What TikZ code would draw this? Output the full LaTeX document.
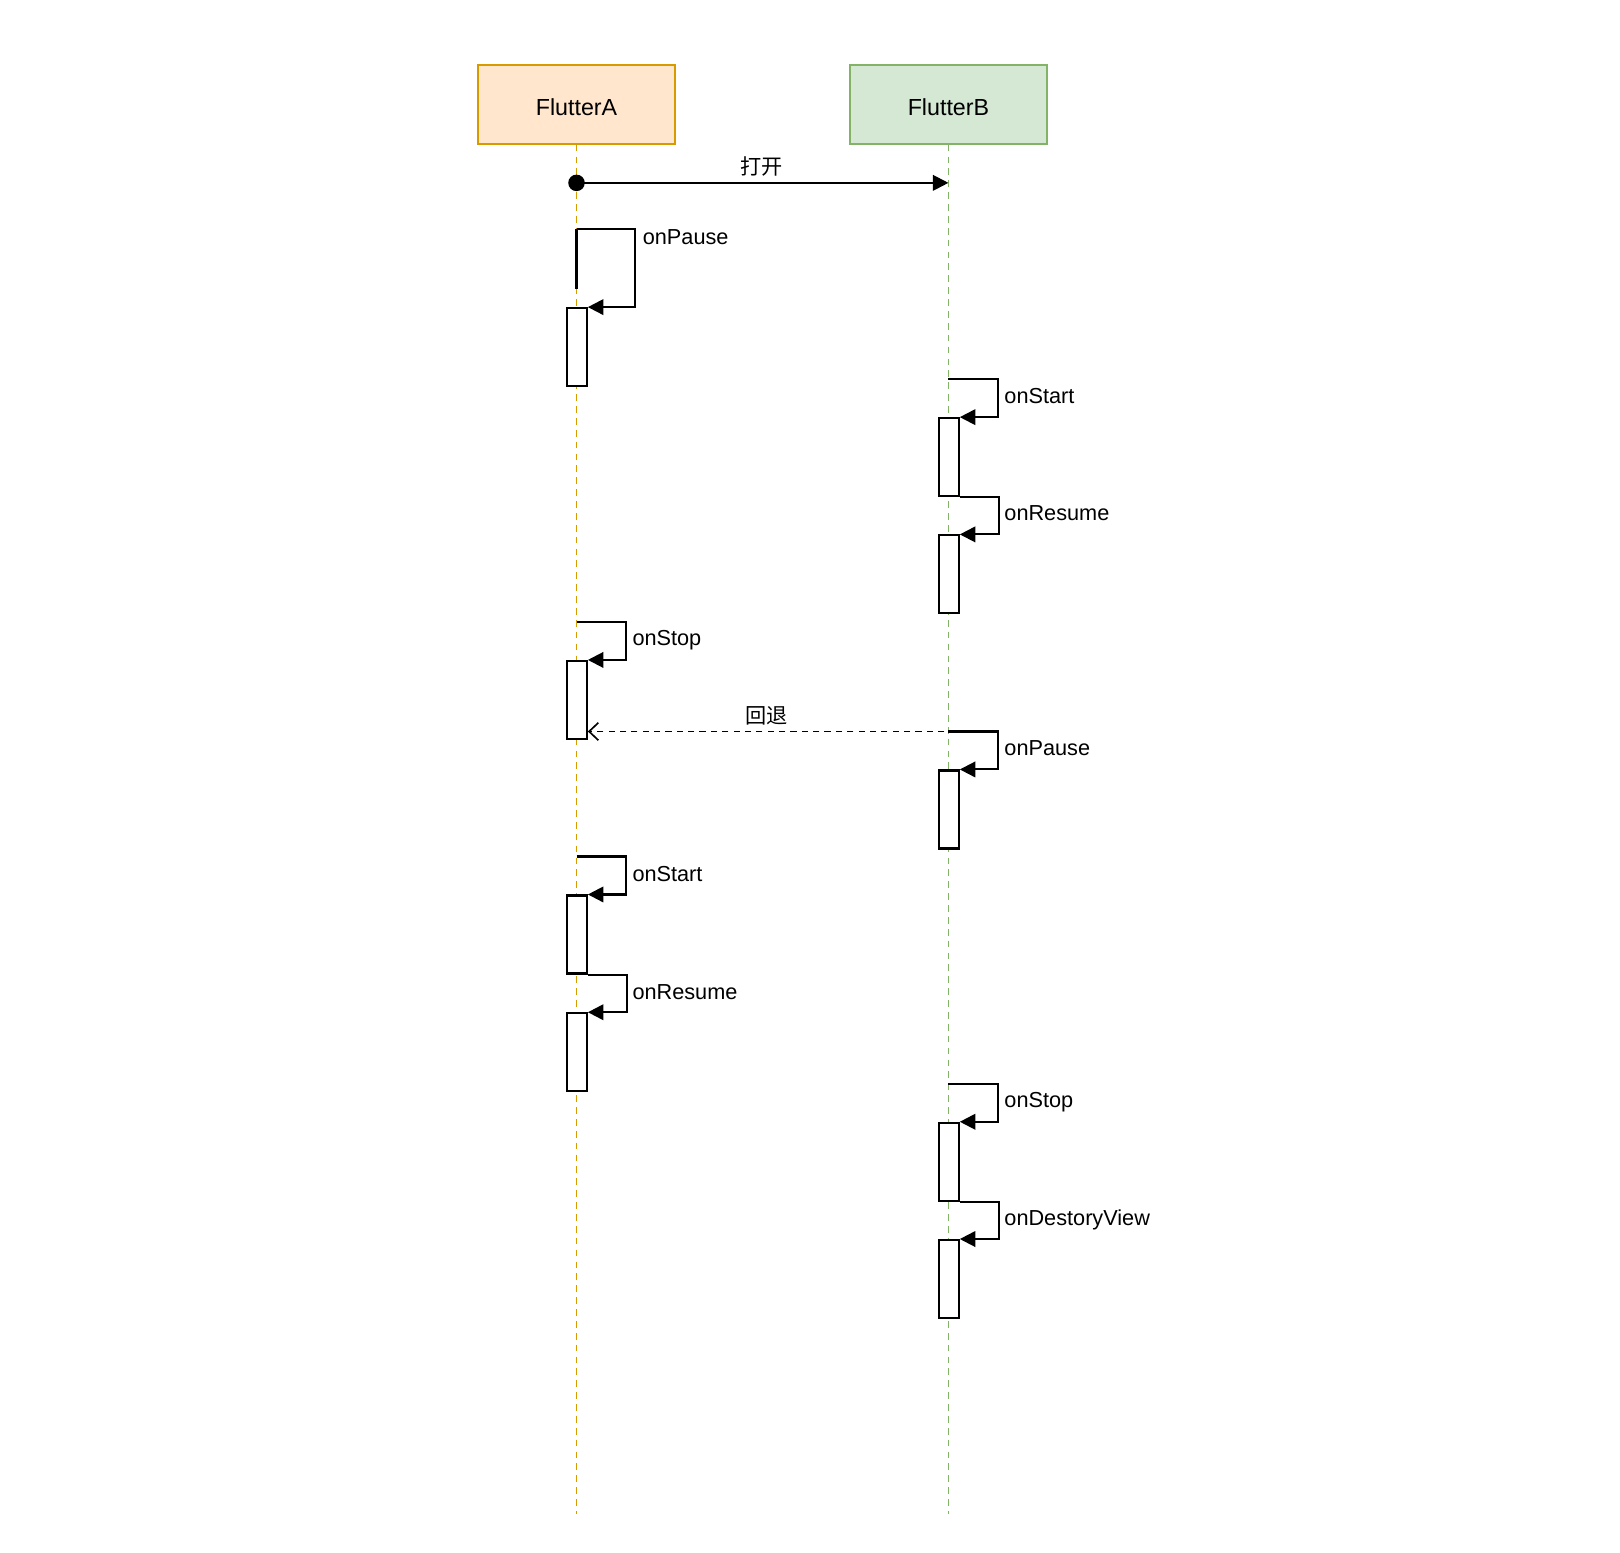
\documentclass[tikz,border=0pt]{standalone}
\usepackage{fontspec}
\setmainfont{Liberation Sans}
\newfontfamily\cjk{Noto Sans CJK SC}
\usetikzlibrary{arrows.meta}
\definecolor{afill}{HTML}{FFE6CC}
\definecolor{adraw}{HTML}{D79B00}
\definecolor{bfill}{HTML}{D5E8D4}
\definecolor{bdraw}{HTML}{82B366}
\begin{document}
\begin{tikzpicture}[x=1pt,y=-1pt,
  head/.style={draw, line width=2pt, minimum width=190pt, minimum height=76pt, inner sep=0pt,
    text height=22pt, text depth=0pt, font=\fontsize{22.5}{27}\selectfont},
  act/.style={draw, line width=2pt, fill=white, minimum width=19pt, minimum height=75.5pt, inner sep=0pt},
  lifeA/.style={draw=adraw, line width=1.8pt, dash pattern=on 6.5pt off 5pt},
  lifeB/.style={draw=bdraw, line width=1.4pt, dash pattern=on 6.5pt off 5pt},
  call/.style={line width=2pt, -{Triangle[length=15pt,width=15pt]}},
  ret/.style={line width=1.8pt, dash pattern=on 6pt off 5pt, -{Straight Barb[length=9pt,width=17pt,line width=1.6pt]}},
  lbl/.style={anchor=base west, inner sep=0pt, font=\fontsize{21}{25}\selectfont},
  cjklbl/.style={anchor=base, inner sep=0pt, font=\cjk\fontsize{20.5}{24}\selectfont},
]
\useasboundingbox (0,0) rectangle (1568,1503);
\fill[white] (0,0) rectangle (1568,1503);

% headers
\node[head, fill=afill, draw=adraw] (A) at (558,101) {FlutterA};
\node[head, fill=bfill, draw=bdraw] (B) at (918,101) {FlutterB};

% lifelines
\coordinate (Aend) at (558,1465);
\coordinate (Bend) at (918,1465);
\draw[lifeA] (A.south) -- (Aend);
\draw[lifeB] (B.south) -- (Bend);

% open message
\coordinate (o1) at (558,177);
\coordinate (o2) at (918,177);
\fill (o1) circle (8pt);
\draw[call] (o1) -- (o2);
\node[cjklbl] (lopen) at (737,169) {打开};

% activation boxes
\node[act] (A1) at (558.5,336) {};
\node[act] (B1) at (918.5,442.5) {};
\node[act] (B2) at (918.5,556) {};
\node[act] (A2) at (558.5,677.5) {};
\node[act] (B3) at (918.5,783.5) {};
\node[act] (A3) at (558.5,904.5) {};
\node[act] (A4) at (558.5,1018.5) {};
\node[act] (B4) at (918.5,1124.5) {};
\node[act] (B5) at (918.5,1238) {};

% A onPause
\coordinate (s1) at (558,222);
\coordinate (s1b) at (558,280);
\draw[line width=2pt] (s1) -- (s1b);
\draw[call] (s1) -- (615,222) |- (A1.north east);
\node[lbl] (l1) at (622,236.5) {onPause};

% B onStart
\coordinate (s2) at (918,367);
\draw[call] (s2) -- (966,367) |- (B1.north east);
\node[lbl] (l2) at (972,390.5) {onStart};

% B onResume
\draw[call] (B1.south east) -- ++(38,0) |- (B2.north east);
\node[lbl] (l3) at (972,504) {onResume};

% A onStop
\coordinate (s4) at (558,602);
\draw[call] (s4) -- (606,602) |- (A2.north east);
\node[lbl] (l4) at (612,625) {onStop};

% back message
\coordinate (bk) at (914,708);
\draw[ret] (bk) -- (bk -| A2.east);
\node[cjklbl] (lback) at (742,700) {回退};

% B onPause
\coordinate (s5) at (918,708);
\draw[call] (s5) -- (966,708) |- (B3.north east);
\node[lbl] (l5) at (972,731) {onPause};

% A onStart
\coordinate (s6) at (558,829);
\draw[call] (s6) -- (606,829) |- (A3.north east);
\node[lbl] (l6) at (612,853) {onStart};

% A onResume
\draw[call] (A3.south east) -- ++(38,0) |- (A4.north east);
\node[lbl] (l7) at (612,967) {onResume};

% B onStop
\coordinate (s8) at (918,1049);
\draw[call] (s8) -- (966,1049) |- (B4.north east);
\node[lbl] (l8) at (972,1072) {onStop};

% B onDestoryView
\draw[call] (B4.south east) -- ++(38,0) |- (B5.north east);
\node[lbl] (l9) at (972,1186.5) {onDestoryView};
\end{tikzpicture}
\end{document}
